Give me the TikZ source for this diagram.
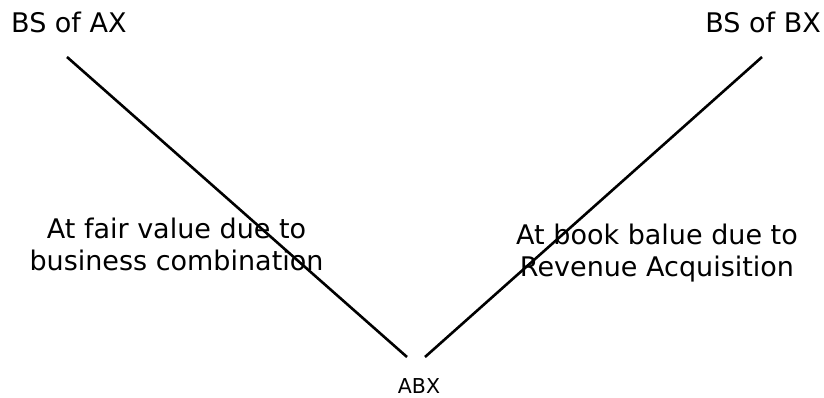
\documentclass[tikz,border=0pt]{standalone}
\usepackage{fontspec}
\setmainfont{DejaVu Sans}
\begin{document}
\begin{tikzpicture}[x=1pt,y=-1pt,
  leg/.style={line width=2.6pt, black},
  big/.style={font=\fontsize{27}{32}\selectfont, inner sep=0pt},
  small/.style={font=\fontsize{20.5}{24}\selectfont, inner sep=0pt}]
\useasboundingbox (0,0) rectangle (824,398);
% endpoints of the two legs
\coordinate (ax) at (67,57);
\coordinate (bx) at (762,57);
\coordinate (la) at (407,357);
\coordinate (lb) at (425,357);
\draw[leg] (ax) -- (la);
\draw[leg] (bx) -- (lb);
% labels (base anchor sits on the last line of a two-line label)
\node[big, anchor=base west] (bsax) at (11,33) {BS of AX};
\node[big, anchor=base east] (bsbx) at (821,33) {BS of BX};
\node[small, anchor=base] (abx) at (419,393) {ABX};
\node[big, anchor=base, align=center] (fair) at (176.5,270) {At fair value due to\\business combination};
\node[big, anchor=base, align=center] (book) at (657,276) {At book balue due to\\Revenue Acquisition};
\end{tikzpicture}
\end{document}
